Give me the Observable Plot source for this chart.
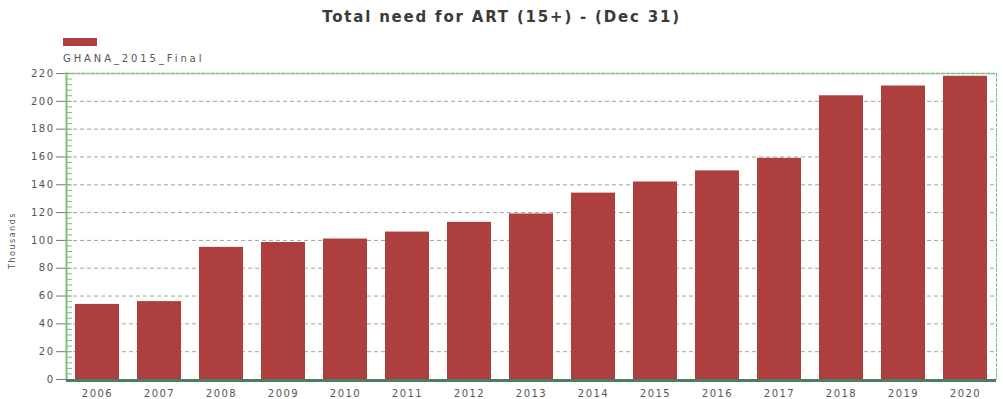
<!DOCTYPE html>
<html><head><meta charset="utf-8">
<script src="https://cdn.jsdelivr.net/npm/d3@7"></script>
<script src="https://cdn.jsdelivr.net/npm/@observablehq/plot@0.6"></script>
<style>
body{margin:0;background:#fff;font-family:"DejaVu Sans",sans-serif;}
#wrap{position:relative;width:1003px;height:399px;}
#title{position:absolute;left:0;width:1003px;top:8px;text-align:center;font-size:15px;font-weight:bold;letter-spacing:1.8px;color:#3a3a3a;}
#sw{position:absolute;left:63px;top:38px;width:34px;height:8px;background:#ae3f3f;}
#lg{position:absolute;left:63px;top:53px;font-size:10px;letter-spacing:2.9px;color:#555;}
</style></head>
<body><div id="wrap"><div id="chart"></div>
<div id="title">Total need for ART (15+) - (Dec 31)</div>
<div id="sw"></div><div id="lg"></div></div>
<script>
const years = ["2006","2007","2008","2009","2010","2011","2012","2013","2014","2015","2016","2017","2018","2019","2020"];
const values = [54,56,95,98.5,101,106,113,119,134,142,150,159,204,211,218];
const yTicks = [0,20,40,60,80,100,120,140,160,180,200,220];
const minorTicks = d3.range(0,221,4);
const seriesName = "GHANA_2015_Final";
const yLabel = "Thousands";
document.getElementById("lg").textContent = seriesName;
const data = years.map((y,i)=>({year:y,value:values[i]}));
const green = "#7cc07c";
const W = 1003, ML = 66, MR = 7;
const chart = Plot.plot({
  width:W, height:399,
  marginTop:73, marginBottom:20, marginLeft:ML, marginRight:MR,
  style:{fontFamily:"DejaVu Sans", fontSize:"10px", color:"#555", letterSpacing:"1.5px"},
  x:{domain:years, paddingInner:0.29, paddingOuter:0.1, label:null},
  y:{domain:[0,220], label:null},
  marks:[
    Plot.ruleY(yTicks.slice(1,-1), {stroke:"#9aa89a", strokeDasharray:"4,3", strokeWidth:1}),
    Plot.frame({anchor:"top", stroke:green, strokeDasharray:"3,2", strokeWidth:1.5}),
    Plot.frame({anchor:"right", stroke:green, strokeDasharray:"3,2", strokeWidth:1}),
    Plot.barY(data, {x:"year", y:"value", fill:"#ae3f3f"}),
    Plot.ruleY(minorTicks, {stroke:green, insetRight:W-ML-MR-6, strokeWidth:1}),
    Plot.axisY({ticks:yTicks, tickSize:10, tickPadding:2, anchor:"left", stroke:"#777", fill:"#555", fontSize:10}),
    Plot.axisX({tickSize:0, tickPadding:10, fill:"#555", fontSize:10, letterSpacing:"1px"}),
    Plot.frame({anchor:"left", stroke:green, strokeWidth:2}),
    Plot.ruleY([0], {stroke:"#4a7f62", strokeWidth:3, dy:1}),
    Plot.text([yLabel], {frameAnchor:"left", textAnchor:"middle", dx:-54, dy:14, text:d=>d, rotate:-90, fontSize:8, fill:"#555", letterSpacing:"0px"})
  ]
});
document.getElementById("chart").appendChild(chart);
</script></body></html>
